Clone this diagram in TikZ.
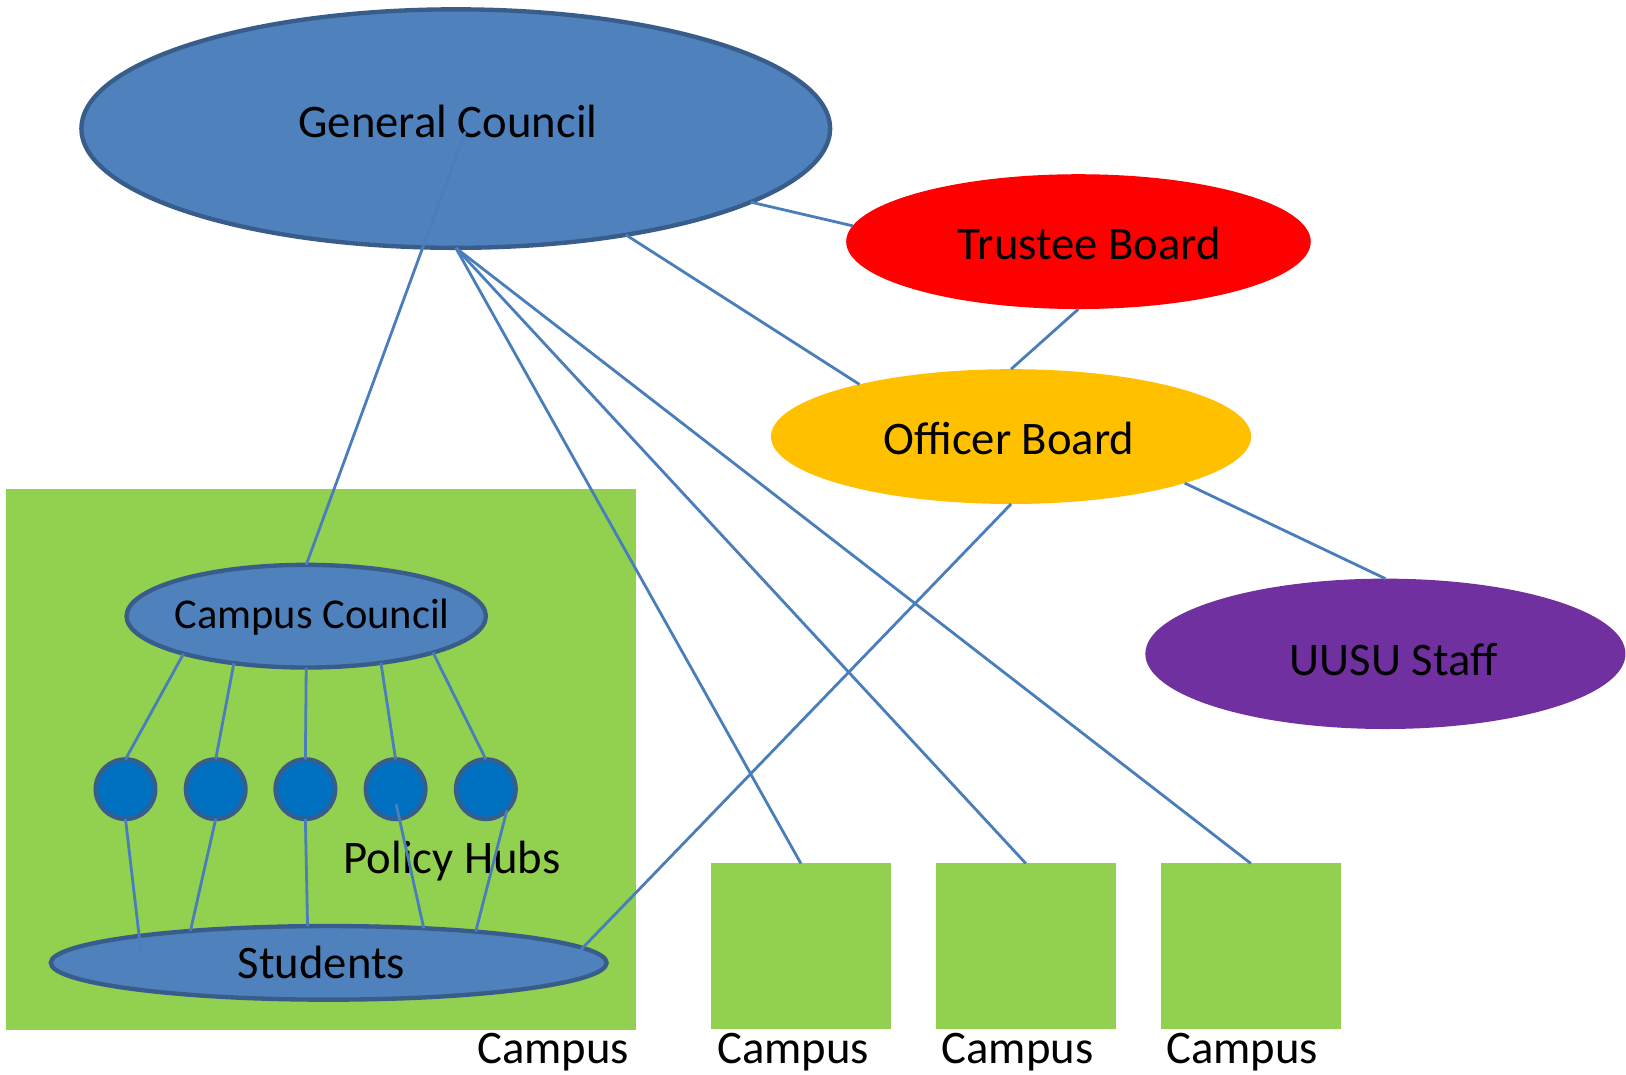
\documentclass[tikz,border=0pt]{standalone}
\usepackage{fontspec}
\setmainfont{Carlito}
\usetikzlibrary{shapes.geometric}
\definecolor{accblue}{HTML}{4F81BD}
\definecolor{accborder}{HTML}{385D8A}
\definecolor{linkblue}{HTML}{4A7EBB}
\definecolor{hubblue}{HTML}{0070C0}
\definecolor{campgreen}{HTML}{92D050}
\definecolor{tbred}{HTML}{FF0000}
\definecolor{oborange}{HTML}{FFC000}
\definecolor{staffpurple}{HTML}{7030A0}
\tikzset{
  oval/.style={ellipse, inner sep=0pt, outer sep=0pt},
  bluebody/.style={oval, fill=accblue, draw=accborder, line width=4.2pt},
  hubnode/.style={circle, inner sep=0pt, outer sep=0pt, minimum size=57.5pt, fill=hubblue, draw=accborder, line width=4.2pt},
  campbox/.style={rectangle, inner sep=0pt, outer sep=0pt, fill=campgreen},
  link/.style={draw=linkblue, line width=2.7pt},
  lbl/.style={anchor=base, inner sep=0pt, outer sep=0pt, font=\fontsize{45pt}{54pt}\selectfont},
  smalllbl/.style={anchor=base, inner sep=0pt, outer sep=0pt, font=\fontsize{41pt}{49pt}\selectfont}
}
\begin{document}
\begin{tikzpicture}[x=1pt, y=-1pt]
\useasboundingbox (0,0) rectangle (1568,1036);
% campus areas
\fill[campgreen] (6,472) rectangle (613,993);
\node[campbox, minimum width=173.8pt, minimum height=159.5pt] (box1) at (772.3,912.4) {};
\node[campbox, minimum width=173.8pt, minimum height=159.5pt] (box2) at (989.2,912.4) {};
\node[campbox, minimum width=173.8pt, minimum height=159.5pt] (box3) at (1206.2,912.4) {};
% bodies
\node[bluebody, minimum width=722pt, minimum height=230pt] (gc) at (439.5,124) {};
\node[oval, fill=tbred, minimum width=448pt, minimum height=130pt] (tb) at (1040,233) {};
\node[oval, fill=oborange, minimum width=463pt, minimum height=130pt] (ob) at (975,421) {};
\node[oval, fill=staffpurple, minimum width=463pt, minimum height=145pt] (us) at (1336,630.5) {};
\node[bluebody, minimum width=346.5pt, minimum height=99pt] (cc) at (295.3,594.2) {};
\node[bluebody, minimum width=536pt, minimum height=71pt] (st) at (317,928.5) {};
\node[hubnode] (h1) at (121,761) {};
\node[hubnode] (h2) at (208,761) {};
\node[hubnode] (h3) at (294.5,761) {};
\node[hubnode] (h4) at (381.5,761) {};
\node[hubnode] (h5) at (468.5,761) {};
% labels
\node[lbl] (gct) at (432,132.5) {General Council};
\node[lbl] (tbt) at (1050.5,250.2) {Trustee Board};
\node[lbl] (obt) at (973,437.8) {Officer Board};
\node[lbl] (ust) at (1344,651.5) {UUSU Staff};
\node[smalllbl] (cct) at (301,606.3) {Campus Council};
\node[lbl] (pht) at (436,842.4) {Policy Hubs};
\node[lbl] (stt) at (310,943.6) {Students};
\node[lbl] (c0) at (533.5,1026) {Campus};
\node[lbl] (c1) at (764.8,1026) {Campus};
\node[lbl] (c2) at (981.2,1026) {Campus};
\node[lbl] (c3) at (1198,1026) {Campus};
% free ends
\coordinate (gcin) at (448.7,127);
\coordinate (s1) at (136,918);
\coordinate (h4in) at (382,775.5);
\coordinate (stob) at (560,916);
% connectors
\draw[link] (gcin) -- (cc.north);
\draw[link] (gc.south) -- (box1.north);
\draw[link] (gc.south) -- (box2.north);
\draw[link] (gc.south) -- (box3.north);
\draw[link] (gc.-14.7) -- (tb.176.6);
\draw[link] (gc.-32.5) -- (ob.161.7);
\draw[link] (tb.south) -- (ob.north);
\draw[link] (ob.-15.5) -- (us.north);
\draw[link] (ob.south) -- (stob);
\draw[link] (cc.-163.6) -- (h1.north);
\draw[link] (cc.-147.3) -- (h2.north);
\draw[link] (cc.south) -- (h3.north);
\draw[link] (cc.-32.7) -- (h4.north);
\draw[link] (cc.-16.4) -- (h5.north);
\draw[link] (h1.south) -- (s1);
\draw[link] (h2.south) -- (st.167.4);
\draw[link] (h3.south) -- (st.120.5);
\draw[link] (h4in) -- (st.20.5);
\draw[link] (h5.-45) -- (st.12.9);
\end{tikzpicture}
\end{document}
